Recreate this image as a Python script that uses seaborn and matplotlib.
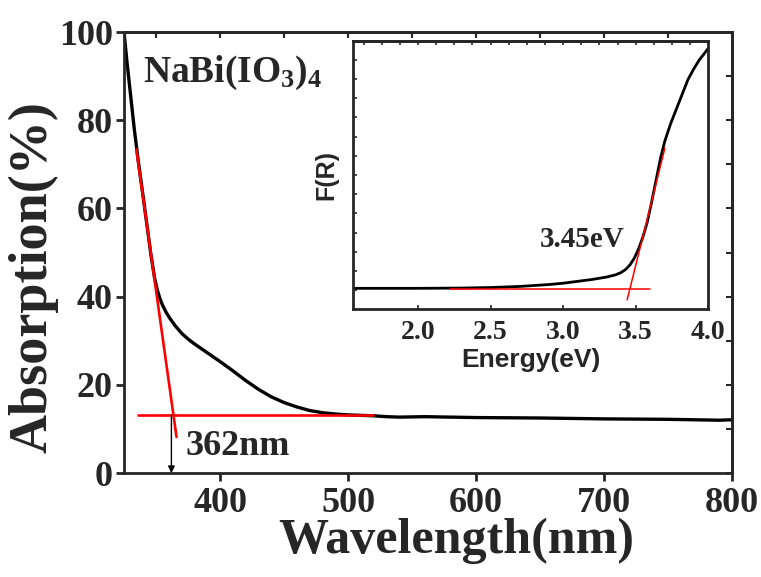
import numpy as np
import pandas as pd
import matplotlib
matplotlib.use("Agg")
import matplotlib.pyplot as plt
from matplotlib.ticker import MultipleLocator, FixedLocator, FormatStrFormatter
import seaborn as sns

# main spectrum: wavelength (nm) vs absorption (%)
wavelength = [325, 327, 330, 333, 336, 340, 343, 346, 349, 351, 353, 355, 358,
              361, 365, 370, 375, 380, 390, 400, 410, 420, 430, 440, 450, 460,
              470, 480, 490, 500, 510, 520, 530, 540, 560, 580, 600, 650, 700,
              750, 790, 800]
absorption = [100, 94, 86, 78, 71, 62.5, 56, 49.5, 44, 41.5, 39.6, 38.1, 36.4,
              35.0, 33.4, 31.7, 30.4, 29.3, 27.3, 25.3, 23.2, 21.0, 19.0, 17.3,
              16.0, 15.0, 14.2, 13.7, 13.4, 13.2, 13.1, 13.0, 12.8, 12.7, 12.8,
              12.7, 12.6, 12.5, 12.3, 12.2, 12.0, 12.1]

# red construction lines in the main plot
edge_x = [334.6, 366.0]
edge_y = [73.4, 8.2]
base_x = [336, 519.5]
base_y = [13.2, 13.2]
edge_nm = 362

# inset: Kubelka-Munk F(R) vs energy (arbitrary units)
energy = [1.55, 2.0, 2.3, 2.5, 2.7, 2.9, 3.0, 3.1, 3.2, 3.3, 3.36, 3.40, 3.43,
          3.46, 3.49, 3.52, 3.55, 3.58, 3.61, 3.64, 3.67, 3.70, 3.74, 3.78,
          3.82, 3.86, 3.90, 3.94, 3.97, 4.0]
f_r = [0.078, 0.078, 0.079, 0.081, 0.085, 0.092, 0.097, 0.104, 0.111, 0.120,
       0.128, 0.137, 0.148, 0.165, 0.190, 0.225, 0.270, 0.325, 0.400, 0.480,
       0.560, 0.625, 0.690, 0.745, 0.800, 0.855, 0.895, 0.930, 0.950, 0.972]
fit_base_x = [2.218, 3.597]
fit_base_y = [0.075, 0.075]
fit_edge_x = [3.441, 3.701]
fit_edge_y = [0.035, 0.60]
gap_ev = "3.45eV"

sns.set_style("ticks")
plt.rcParams["font.family"] = ["Liberation Serif", "DejaVu Serif"]
plt.rcParams["font.weight"] = "bold"
plt.rcParams["mathtext.fontset"] = "custom"
plt.rcParams["mathtext.rm"] = "Liberation Serif:bold"
plt.rcParams["mathtext.it"] = "Liberation Serif:bold"
plt.rcParams["mathtext.bf"] = "Liberation Serif:bold"

fig = plt.figure(figsize=(7.61, 5.77), dpi=100)
ax = fig.add_axes([0.163, 0.180, 0.799, 0.7645])

main = pd.DataFrame({"wl": wavelength, "abs": absorption})
sns.lineplot(data=main, x="wl", y="abs", ax=ax, color="black", lw=2.4)
sns.lineplot(x=edge_x, y=edge_y, ax=ax, color="red", lw=1.9)
sns.lineplot(x=base_x, y=base_y, ax=ax, color="red", lw=1.9)
ax.annotate("", xy=(edge_nm, 0), xytext=(edge_nm, base_y[0]),
            arrowprops=dict(arrowstyle="-|>", color="black", lw=1.0,
                            mutation_scale=10, shrinkA=0, shrinkB=0))

ax.set_xlim(325, 800)
ax.set_ylim(0, 100)
ax.xaxis.set_major_locator(MultipleLocator(100))
ax.yaxis.set_major_locator(MultipleLocator(20))
for s in ax.spines.values():
    s.set_linewidth(2.0)
    s.set_visible(True)
ax.tick_params(axis="both", which="major", direction="out", length=6, width=2,
               labelsize=26, pad=4)
ax.tick_params(axis="y", pad=2)
# small mirror ticks on top and right
top = ax.secondary_xaxis("top")
top.xaxis.set_major_locator(MultipleLocator(50))
top.tick_params(direction="in", length=4, width=1.5, labeltop=False)
right = ax.secondary_yaxis("right")
right.yaxis.set_major_locator(MultipleLocator(10))
right.tick_params(direction="in", length=4, width=1.5, labelright=False)
for s in list(top.spines.values()) + list(right.spines.values()):
    s.set_linewidth(2.0)

ax.set_xlabel("Wavelength(nm)", fontsize=36, fontweight="bold")
ax.set_ylabel("Absorption(%)", fontsize=39, fontweight="bold")
ax.xaxis.set_label_coords(0.546, -0.1)
ax.yaxis.set_label_coords(-0.108, 0.444)

ax.text(0.031, 0.887, r"NaBi(IO$_3$)$_4$", transform=ax.transAxes,
        fontsize=27, fontweight="bold", va="baseline", ha="left")
ax.text(373, 4.0, f"{edge_nm}nm", fontsize=26, fontweight="bold",
        va="baseline", ha="left")

# inset
ins = fig.add_axes([0.4635, 0.464, 0.4672, 0.4655])
kub = pd.DataFrame({"E": energy, "F": f_r})
sns.lineplot(data=kub, x="E", y="F", ax=ins, color="black", lw=2.0)
sns.lineplot(x=fit_base_x, y=fit_base_y, ax=ins, color="red", lw=1.1)
sns.lineplot(x=fit_edge_x, y=fit_edge_y, ax=ins, color="red", lw=1.1)
ins.set_xlim(1.55, 4.0)
ins.set_ylim(0, 1)
ins.xaxis.set_major_locator(MultipleLocator(0.5))
ins.xaxis.set_major_formatter(FormatStrFormatter("%.1f"))
ins.yaxis.set_major_locator(FixedLocator(np.linspace(0, 1, 15)))
ins.set_yticklabels([])
for s in ins.spines.values():
    s.set_linewidth(2.0)
    s.set_visible(True)
ins.tick_params(axis="x", direction="in", length=3, width=1.2,
                labelsize=20, pad=8)
ins.tick_params(axis="y", direction="in", length=3, width=1.2)
itop = ins.secondary_xaxis("top")
itop.xaxis.set_major_locator(MultipleLocator(0.125))
itop.tick_params(direction="in", length=3, width=1.2, labeltop=False)
itop.spines["top"].set_linewidth(2.0)

ins.set_xlabel("Energy(eV)", fontsize=19, fontweight="bold",
               family=["Liberation Sans", "DejaVu Sans"], labelpad=2)
ins.set_ylabel("F(R)", fontsize=18, fontweight="bold",
               family=["Liberation Sans", "DejaVu Sans"])
ins.yaxis.set_label_coords(-0.04, 0.5)
ins.text(3.13, 0.26, gap_ev, fontsize=21, fontweight="bold",
         ha="center", va="center")

fig.savefig("out.png", dpi=100)
